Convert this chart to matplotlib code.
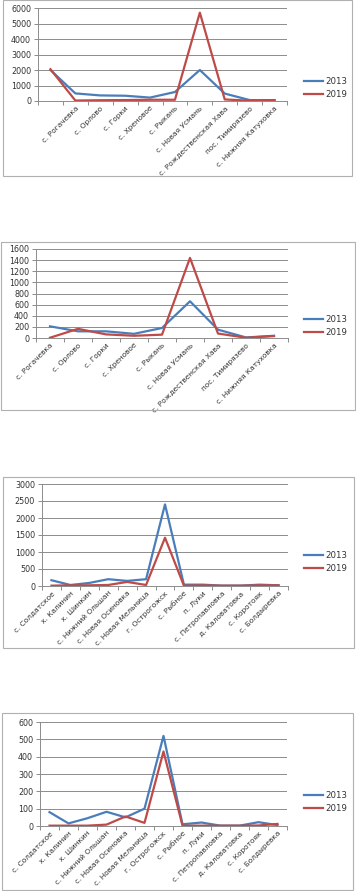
import matplotlib
matplotlib.use("Agg")
import matplotlib.pyplot as plt
from matplotlib.patches import Rectangle
import numpy as np

W, H = 356, 891

# first chart has one unlabelled point in front
villages1a = ["", "с. Рогачевка", "с. Орлово", "с. Горки", "с. Хреновое", "с. Рыкань",
              "с. Новая Усмань", "с. Рождественская Хава", "пос. Тимирязево",
              "с. Нижняя Катуховка"]
villages1 = ["с. Рогачевка", "с. Орлово", "с. Горки", "с. Хреновое", "с. Рыкань",
             "с. Новая Усмань", "с. Рождественская Хава", "пос. Тимирязево",
             "с. Нижняя Катуховка"]
villages2 = ["с. Солдатское", "х. Калинин", "х. Шинкин", "с. Нижний Ольшан",
             "с. Новая Осиновка", "с. Новая Мельница", "г. Острогожск", "с. Рыбное",
             "п. Луки", "с. Петропавловка", "д. Каловатовка", "с. Коротояк",
             "с. Болдыревка"]

a_2013 = [2000, 490, 360, 340, 220, 580, 2000, 480, 60, 50]
a_2019 = [2050, 30, 50, 60, 80, 80, 5700, 100, 20, 60]

b_2013 = [210, 120, 120, 75, 180, 660, 150, 10, 40]
b_2019 = [5, 165, 65, 40, 60, 1440, 80, 5, 35]

c_2013 = [170, 30, 90, 200, 150, 200, 2400, 40, 40, 10, 10, 40, 20]
c_2019 = [10, 20, 20, 30, 120, 30, 1420, 10, 20, 10, 10, 20, 20]

d_2013 = [80, 15, 45, 82, 50, 100, 520, 10, 20, 2, 2, 22, 5]
d_2019 = [2, 2, 2, 8, 55, 18, 430, 2, 2, 2, 2, 3, 12]

BLUE = "#4a7ebb"
RED = "#be4b48"
GRID = "#8c8c8c"

fig = plt.figure(figsize=(W / 100, H / 100), dpi=100)


def frame(x0, y0, x1, y1):
    fig.patches.append(Rectangle((x0 / W, 1 - y1 / H), (x1 - x0) / W, (y1 - y0) / H,
                                 transform=fig.transFigure, fill=False,
                                 edgecolor="#b0b0b0", lw=0.8))


def panel(box, cats, s13, s19, ymax, step, leg_y):
    x0, y0, x1, y1 = box
    ax = fig.add_axes([x0 / W, 1 - y1 / H, (x1 - x0) / W, (y1 - y0) / H])
    x = np.arange(len(cats))
    ax.plot(x, s13, color=BLUE, lw=1.6, label="2013")
    ax.plot(x, s19, color=RED, lw=1.6, label="2019")
    ax.set_xlim(-0.5, len(cats) - 0.5)
    ax.set_ylim(0, ymax)
    ax.set_yticks(np.arange(0, ymax + 1, step))
    ax.yaxis.grid(True, color=GRID, lw=0.7)
    ax.set_axisbelow(True)
    ax.set_xticks(x)
    ax.set_xticklabels(cats, rotation=45, ha="right", rotation_mode="anchor")
    ax.set_xticks(np.arange(-0.5, len(cats)), minor=True)
    ax.tick_params(axis="x", which="major", length=0, pad=3, labelsize=5.3, colors="#333333")
    ax.tick_params(axis="x", which="minor", length=3, color=GRID, width=0.7)
    ax.tick_params(axis="y", length=3, color=GRID, width=0.7, labelsize=5.8,
                   labelcolor="#333333", pad=2)
    for s in ["top", "right"]:
        ax.spines[s].set_visible(False)
    for s in ["left", "bottom"]:
        ax.spines[s].set_color(GRID)
        ax.spines[s].set_linewidth(0.7)
    fig.legend(handles=ax.get_lines(), loc="center left",
               bbox_to_anchor=(300 / W, 1 - leg_y / H), bbox_transform=fig.transFigure,
               frameon=False, fontsize=6.2, handlelength=2.2, handletextpad=0.2,
               labelspacing=0.45, borderpad=0, labelcolor="#333333")
    return ax


frame(3, 0, 352, 176)
frame(1, 242, 355, 410)
frame(3, 477, 354, 648)
frame(2, 713, 353, 890)

panel((38, 8, 287, 101), villages1a, a_2013, a_2019, 6000, 1000, 88)
panel((36, 249, 288, 338), villages1, b_2013, b_2019, 1600, 200, 326)
panel((42, 484, 288, 586), villages2, c_2013, c_2019, 3000, 500, 562)
panel((40, 722, 287, 826), villages2, d_2013, d_2019, 600, 100, 802)

fig.savefig("out.png", dpi=100)
